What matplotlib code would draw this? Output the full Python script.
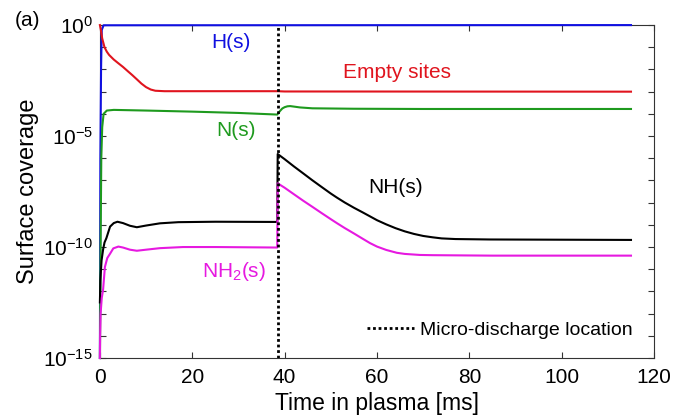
import math
import matplotlib
matplotlib.use("Agg")
import matplotlib.pyplot as plt
from matplotlib.ticker import FixedLocator, FuncFormatter, NullLocator

plt.rcParams['font.family'] = ['Liberation Sans', 'DejaVu Sans']
plt.rcParams['mathtext.fontset'] = 'custom'
plt.rcParams['mathtext.rm'] = 'Liberation Sans'
plt.rcParams['mathtext.it'] = 'Liberation Sans:italic'
plt.rcParams['mathtext.bf'] = 'Liberation Sans:bold'
plt.rcParams['mathtext.default'] = 'regular'

# Surface coverages vs. time in plasma (ms)
t_h = [0, 0.1, 0.25, 0.4, 0.8, 115]
cov_h = [1e-15, 1e-6, 1e-2, 0.6, 0.98, 0.999]

t_empty = [0, 0.2, 0.5, 1, 1.5, 2, 3, 4, 5, 6, 7, 8, 9, 10, 11, 12, 14,
           38.5, 40, 115]
cov_empty = [1.0, 6.3e-1, 2.5e-1, 1.0e-1, 6.3e-2, 4.5e-2, 2.8e-2, 1.9e-2,
             1.3e-2, 8.5e-3, 5.6e-3, 3.6e-3, 2.3e-3, 1.6e-3, 1.25e-3,
             1.1e-3, 1.05e-3, 1.05e-3, 1.02e-3, 1.0e-3]

t_n = [0, 0.15, 0.3, 0.5, 0.8, 1.5, 3, 10, 20, 30, 38.4, 39, 39.5, 40,
       40.6, 41.2, 42.2, 43.3, 46, 55, 70, 115]
cov_n = [1e-15, 1e-10, 1e-6, 2.5e-5, 1.0e-4, 1.41e-4, 1.51e-4, 1.41e-4,
         1.26e-4, 1.10e-4, 9.3e-5, 1.35e-4, 1.75e-4, 2.0e-4, 2.19e-4,
         2.24e-4, 2.1e-4, 1.95e-4, 1.78e-4, 1.70e-4, 1.66e-4, 1.66e-4]

t_nh = [0, 0.1, 0.36, 0.7, 1.0, 1.4, 2.2, 3, 3.8, 5, 6.5, 8, 10, 13, 17,
        25, 38.4,
        38.5, 40, 42, 44, 46, 48, 50, 51.3, 53, 55, 57, 58.5, 60, 62, 64,
        66, 68, 70, 72, 74, 77, 84.5, 115]
cov_nh = [3.2e-13, 3.2e-12, 2.5e-11, 7.9e-11, 1.6e-10, 2.5e-10, 8.3e-10,
          1.2e-9, 1.38e-9, 1.2e-9, 9.1e-10, 7.8e-10, 9.3e-10, 1.17e-9,
          1.32e-9, 1.38e-9, 1.35e-9,
          1.55e-6, 9.1e-7, 4.3e-7, 2.1e-7, 1.02e-7, 5.1e-8, 2.57e-8,
          1.7e-8, 1.02e-8, 5.9e-9, 3.55e-9, 2.4e-9, 1.62e-9, 1.05e-9,
          7.1e-10, 5.1e-10, 3.9e-10, 3.16e-10, 2.75e-10, 2.45e-10,
          2.29e-10, 2.19e-10, 2.09e-10]

t_nh2 = [0, 0.05, 0.15, 0.4, 0.7, 1.08, 1.6, 2.2, 2.9, 4, 5, 6.5, 8, 10,
         13, 18, 25, 38.4,
         38.5, 40, 42, 44, 46, 48, 50, 51.3, 53, 55, 57, 58.5, 60, 62,
         64.3, 66, 69.3, 72, 85, 115]
cov_nh2 = [1e-15, 1e-14, 1e-13, 5.0e-13, 1.26e-12, 1.26e-11,
           3.2e-11, 5.0e-11, 8.7e-11, 1.05e-10, 9.5e-11, 7.6e-11, 6.8e-11,
           7.6e-11, 8.9e-11, 1.0e-10, 1.0e-10, 9.5e-11,
           7.4e-8, 4.7e-8, 2.4e-8, 1.23e-8, 6.5e-9, 3.4e-9, 1.8e-9,
           1.2e-9, 7.2e-10, 4.1e-10, 2.3e-10, 1.5e-10, 1.05e-10,
           7.4e-11, 5.5e-11, 4.9e-11, 4.4e-11, 4.3e-11, 4.1e-11, 4.1e-11]

discharge_t = 38.5

xticks = [0, 20, 40, 60, 80, 100, 120]
ylabel_exps = [0, -5, -10, -15]

c_blue = '#1010e0'
c_red = '#e0141e'
c_green = '#1e9a1e'
c_mag = '#e619e0'

fig = plt.figure(figsize=(6.75, 4.18), dpi=100)
ax = fig.add_axes([0.148, 0.1435, 0.821, 0.7965])

lw = 1.5
line_kw = dict(lw=lw, clip_on=False, zorder=3)
ax.plot(t_h, cov_h, color=c_blue, **line_kw)
ax.plot(t_empty, cov_empty, color=c_red, **line_kw)
ax.plot(t_n, cov_n, color=c_green, **line_kw)
ax.plot(t_nh, cov_nh, color='black', **line_kw)
ax.plot(t_nh2, cov_nh2, color=c_mag, **line_kw)
ax.axvline(discharge_t, color='black', lw=2, linestyle=(0, (1, 1)),
           zorder=5, label='Micro-discharge location')

ax.set_yscale('log')
ax.set_xlim(0, 120)
ax.set_ylim(1e-15, 1e0)

ax.xaxis.set_major_locator(FixedLocator(xticks))
ax.yaxis.set_major_locator(FixedLocator([10.0 ** e for e in range(-15, 1)]))
ax.yaxis.set_minor_locator(NullLocator())


def ylab(v, pos):
    e = int(round(math.log10(v)))
    if e in ylabel_exps:
        return r'$10^{%d}$' % e
    return ''


ax.yaxis.set_major_formatter(FuncFormatter(ylab))
ax.tick_params(axis='both', which='major', direction='in', length=4.5,
               width=0.8, top=True, right=True, labelsize=15,
               color='#333333')
ax.tick_params(axis='x', pad=7)
ax.tick_params(axis='y', pad=5)
for s in ax.spines.values():
    s.set_linewidth(0.8)
    s.set_color('#333333')

ax.set_xlabel('Time in plasma [ms]', fontsize=16.5, labelpad=4)
ax.set_ylabel('Surface coverage', fontsize=17, labelpad=3)

lab_fs = 15
ax.text(28.4, 10 ** (-0.79), 'H(s)', color=c_blue, fontsize=lab_fs,
        ha='center', va='center')
ax.text(64.3, 10 ** (-2.12), 'Empty sites', color=c_red, fontsize=lab_fs,
        ha='center', va='center')
ax.text(29.5, 10 ** (-4.77), 'N(s)', color=c_green, fontsize=lab_fs,
        ha='center', va='center')
ax.text(64.1, 10 ** (-7.34), 'NH(s)', color='black', fontsize=lab_fs,
        ha='center', va='center')
ax.text(29.0, 10 ** (-11.1), r'NH$_2$(s)', color=c_mag, fontsize=lab_fs,
        ha='center', va='center')

fig.text(27 / 675, 1 - 20 / 418, '(a)', fontsize=15, ha='center',
         va='center')

leg = ax.legend(loc='center right', frameon=False, fontsize=14,
                handlelength=2.4, handletextpad=0.35, borderpad=0,
                borderaxespad=0, bbox_to_anchor=(0.962, 0.084))

fig.savefig('out.png', dpi=100)
